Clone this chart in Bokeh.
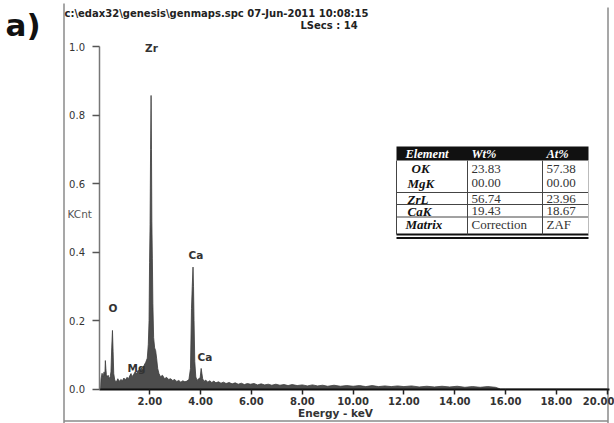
from bokeh.plotting import figure
from bokeh.models import Label, FixedTicker, LinearAxis, Span
from bokeh.core.properties import value
from bokeh.embed import file_html
from bokeh.resources import INLINE

# ---------------- data ----------------
energy_kev = [0.06, 0.08, 0.12, 0.16, 0.20, 0.23, 0.25, 0.27, 0.29, 0.32, 0.36, 0.40, 0.44,
              0.47, 0.50, 0.53, 0.555, 0.58, 0.62, 0.68, 0.74, 0.80, 0.86, 0.92, 0.98,
              1.04, 1.10, 1.16, 1.22, 1.26, 1.30, 1.36, 1.42, 1.48, 1.54, 1.60, 1.66,
              1.72, 1.78, 1.84, 1.90, 1.94, 1.97, 1.99, 2.01, 2.03, 2.05, 2.065, 2.08,
              2.10, 2.12, 2.15, 2.19, 2.23, 2.27, 2.31, 2.36, 2.42, 2.50, 2.58, 2.66,
              2.74, 2.82, 2.90, 2.98, 3.06, 3.14, 3.22, 3.30, 3.38, 3.46, 3.54, 3.60,
              3.64, 3.67, 3.70, 3.72, 3.74, 3.77, 3.81, 3.86, 3.92, 3.98, 4.02, 4.05,
              4.08, 4.13, 4.20, 4.28, 4.36, 4.44, 4.52, 4.60, 4.70, 4.80, 4.90, 5.00,
              5.12, 5.24, 5.36, 5.48, 5.60, 5.72, 5.84, 5.96, 6.10, 6.24, 6.38, 6.52,
              6.66, 6.80, 6.96, 7.12, 7.28, 7.44, 7.60, 7.80, 8.00, 8.20, 8.40, 8.60,
              8.80, 9.00, 9.25, 9.50, 9.75, 10.00, 10.25, 10.50, 10.75, 11.00, 11.25,
              11.50, 11.75, 12.00, 12.30, 12.60, 12.90, 13.20, 13.50, 13.80, 14.10,
              14.40, 14.70, 15.00, 15.30, 15.60, 15.80, 16.00, 20.00]
counts_kcnt = [0.000, 0.030, 0.046, 0.035, 0.050, 0.040, 0.083, 0.060, 0.042, 0.035, 0.040, 0.030, 0.036,
               0.050, 0.120, 0.171, 0.110, 0.045, 0.026, 0.020, 0.030, 0.022, 0.028, 0.024, 0.032,
               0.026, 0.034, 0.030, 0.040, 0.045, 0.036, 0.042, 0.050, 0.045, 0.055, 0.050, 0.062,
               0.058, 0.070, 0.078, 0.090, 0.130, 0.200, 0.370, 0.480, 0.700, 0.857, 0.700, 0.490,
               0.380, 0.250, 0.150, 0.120, 0.112, 0.088, 0.060, 0.045, 0.036, 0.040, 0.030, 0.034,
               0.028, 0.030, 0.025, 0.028, 0.022, 0.025, 0.020, 0.024, 0.021, 0.023, 0.028, 0.060,
               0.235, 0.300, 0.356, 0.300, 0.200, 0.080, 0.035, 0.025, 0.030, 0.032, 0.060, 0.045,
               0.030, 0.022, 0.026, 0.020, 0.024, 0.019, 0.023, 0.018, 0.021, 0.017, 0.020, 0.016,
               0.019, 0.015, 0.018, 0.014, 0.017, 0.013, 0.016, 0.014, 0.016, 0.012, 0.015, 0.012,
               0.014, 0.011, 0.014, 0.011, 0.013, 0.010, 0.013, 0.010, 0.012, 0.009, 0.012, 0.009,
               0.011, 0.008, 0.011, 0.008, 0.010, 0.008, 0.010, 0.007, 0.010, 0.007, 0.009,
               0.007, 0.009, 0.007, 0.009, 0.006, 0.008, 0.006, 0.008, 0.006, 0.008,
               0.005, 0.007, 0.005, 0.007, 0.005, 0.000, 0.000, 0.000]

x_ticks = [2, 4, 6, 8, 10, 12, 14, 16, 18, 20]
x_tick_labels = ["2.00", "4.00", "6.00", "8.00", "10.00", "12.00", "14.00", "16.00", "18.00", "20.00"]
y_ticks = [0.0, 0.2, 0.4, 0.6, 0.8, 1.0]
y_tick_labels = ["0.0", "0.2", "0.4", "0.6", "0.8", "1.0"]

peak_labels = ["Zr", "O", "Mg", "Ca", "Ca"]
table_header = ["Element", "Wt%", "At%"]
table_element = ["OK", "MgK", "ZrL", "CaK", "Matrix"]
table_wt = ["23.83", "00.00", "56.74", "19.43", "Correction"]
table_at = ["57.38", "00.00", "23.96", "18.67", "ZAF"]

header_text = "c:\\edax32\\genesis\\genmaps.spc  07-Jun-2011 10:08:15"
lsecs_text = "LSecs : 14"

# ---------------- layout helpers (picture pixels -> data units) ----------------
W, H = 614, 423
FX0, FY0, PXK, PYK = 98.5, 388.5, 25.41, 342.5
def kx(px):
    return (px - FX0) / PXK
def ky(py):
    return (FY0 - py) / PYK

p = figure(width=W, height=H, x_range=(kx(0), kx(W)), y_range=(ky(H), ky(0)),
           output_backend="svg", toolbar_location=None,
           x_axis_location=None, y_axis_location=None, min_border=0)
p.outline_line_color = None
p.background_fill_color = "white"
p.border_fill_color = "white"
p.xgrid.grid_line_color = None
p.ygrid.grid_line_color = None

# axes (real Bokeh axes drawn at x = 0 and y = 0)
xa = LinearAxis(fixed_location=0, bounds=(0, 20.1), ticker=FixedTicker(ticks=x_ticks))
xa.major_label_overrides = {t: l for t, l in zip(x_ticks, x_tick_labels)}
xa.minor_tick_line_color = None
xa.major_tick_in = 0
xa.major_tick_out = 5
xa.major_tick_line_width = 1.5
xa.major_tick_line_color = "#222222"
xa.axis_line_width = 2.2
xa.axis_line_color = "#111111"
xa.major_label_standoff = 3
xa.major_label_text_font = "DejaVu Sans"
xa.major_label_text_font_size = "10px"
xa.major_label_text_font_style = "bold"
xa.major_label_text_color = "#333333"
p.add_layout(xa, "below")

ya = LinearAxis(fixed_location=0, bounds=(0, 1), ticker=FixedTicker(ticks=y_ticks))
ya.major_label_overrides = {t: l for t, l in zip(y_ticks, y_tick_labels)}
ya.minor_tick_line_color = None
ya.major_tick_in = 0
ya.major_tick_out = 7
ya.major_tick_line_width = 1.5
ya.major_tick_line_color = "#555555"
ya.axis_line_width = 1.5
ya.axis_line_color = "#777777"
ya.major_label_standoff = 7
ya.major_label_text_font = "DejaVu Sans"
ya.major_label_text_font_size = "10px"
ya.major_label_text_color = "#333333"
p.add_layout(ya, "left")

# spectrum
p.varea(x=energy_kev, y1=0, y2=counts_kcnt, fill_color="#4d4d4d")
p.line(x=energy_kev, y=counts_kcnt, line_color="#3c3c3c", line_width=0.8)

# peak labels
label_px = [151, 112.5, 136, 195.5, 204.5]
label_py = [47.5, 307.5, 367, 254, 356]
p.text(x=[kx(v) for v in label_px], y=[ky(v) for v in label_py], text=peak_labels,
       text_font=value("DejaVu Sans"), text_font_style="bold", text_font_size="10.5px",
       text_align="center", text_baseline="middle", text_color="#333333")

# ---------------- table ----------------
T_L, T_R, C1, C2 = 396, 588, 467, 542
H_T, H_B = 146, 160
p.quad(left=[kx(T_L)], right=[kx(T_R)], top=[ky(H_T)], bottom=[ky(H_B)],
       fill_color="#111111", line_color=None)
hl = [192, 204, 216.5]
p.segment(x0=[kx(T_L)] * 3, x1=[kx(T_R)] * 3, y0=[ky(v) for v in hl], y1=[ky(v) for v in hl],
          line_color="#444444", line_width=1)
p.segment(x0=[kx(T_L)] * 2, x1=[kx(T_R)] * 2, y0=[ky(234), ky(237.5)], y1=[ky(234), ky(237.5)],
          line_color="#111111", line_width=2)
vl = [T_L, C1, C2]
p.segment(x0=[kx(v) for v in vl], x1=[kx(v) for v in vl], y0=[ky(H_B)] * 3, y1=[ky(234)] * 3,
          line_color="#444444", line_width=1)
p.segment(x0=[kx(T_R)], x1=[kx(T_R)], y0=[ky(H_B)], y1=[ky(234)], line_color="#bbbbbb", line_width=1)

serif = value("Liberation Serif")
p.text(x=[kx(405), kx(471), kx(546)], y=[ky(153)] * 3, text=table_header, text_font=serif,
       text_font_style="bold italic", text_font_size="12.5px", text_color="white",
       text_baseline="middle", text_align="left")
row_y = [168, 182.5, 198.5, 210.5, 223.5]
col1_x = [411, 407, 407, 407, 405]
p.text(x=[kx(v) for v in col1_x], y=[ky(v) for v in row_y], text=table_element, text_font=serif,
       text_font_style="bold italic", text_font_size="13px", text_color="#111111",
       text_baseline="middle", text_align="left")
p.text(x=[kx(471)] * 5, y=[ky(v) for v in row_y], text=table_wt, text_font=serif,
       text_font_size="13px", text_color="#333333", text_baseline="middle", text_align="left")
p.text(x=[kx(546)] * 5, y=[ky(v) for v in row_y], text=table_at, text_font=serif,
       text_font_size="13px", text_color="#333333", text_baseline="middle", text_align="left")

# ---------------- picture frame lines ----------------
p.segment(x0=[kx(63.5), kx(607.5), kx(63.5)], x1=[kx(63.5), kx(607.5), kx(607.5)],
          y0=[ky(3), ky(7), ky(420.5)], y1=[ky(423), ky(423), ky(420.5)],
          line_color="#8a8a8a", line_width=1.5)

# ---------------- other texts ----------------
def lab(text, px, py, size, style="normal", color="#222222", align="left", font="DejaVu Sans"):
    p.add_layout(Label(x=kx(px), y=ky(py), text=text, text_font=font, text_font_size=size,
                       text_font_style=style, text_color=color, text_align=align,
                       text_baseline="middle"))

lab("a)", 5, 24, "31px", "bold", "#111111")
lab(header_text, 64, 13, "10px", "bold", "#222222")
lab(lsecs_text, 300, 24.5, "10px", "bold", "#222222")
lab("KCnt", 67, 213.5, "10.5px", "normal", "#555555")
lab("Energy - keV", 335, 412, "10.5px", "bold", "#333333", "center")

open("out.html", "w").write(file_html(p, INLINE))
